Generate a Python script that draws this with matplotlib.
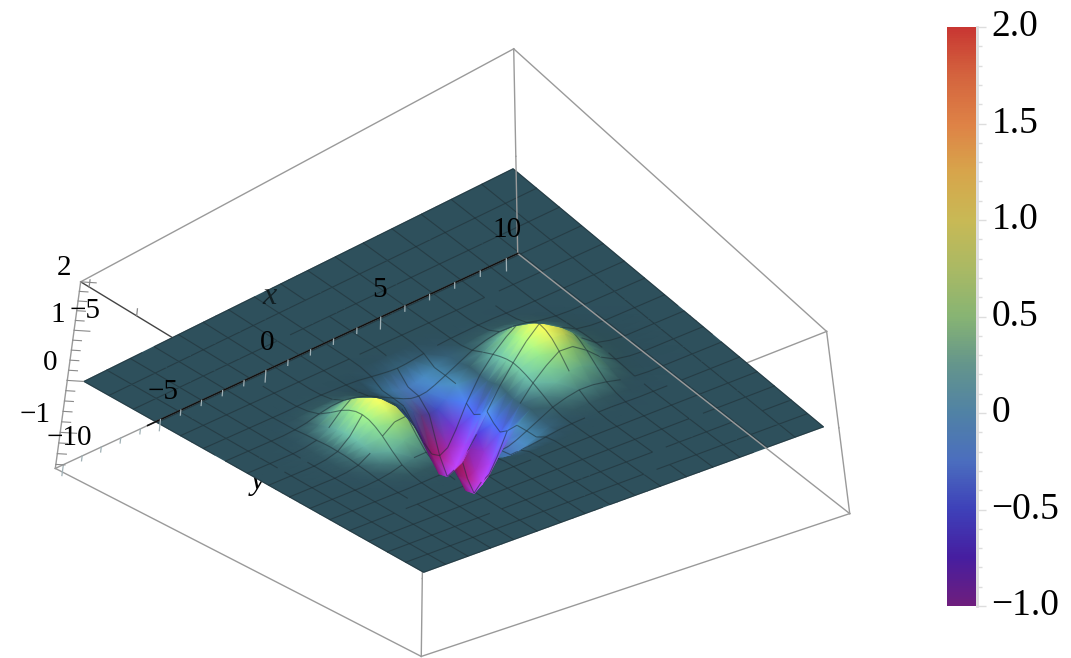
import numpy as np
import matplotlib
matplotlib.use("Agg")
import matplotlib.pyplot as plt
from matplotlib.collections import TriMesh, LineCollection
from matplotlib.colors import LinearSegmentedColormap, Normalize
from matplotlib.cm import ScalarMappable
from matplotlib.ticker import MultipleLocator
from matplotlib.tri import Triangulation
from matplotlib.transforms import ScaledTranslation
from mpl_toolkits.mplot3d import proj3d

# surface heights, one quadrant (x >= 0, y >= 0), the picture is about symmetric
x_half = [0, 0.375, 0.75, 1.25, 1.875, 2.5, 3.125, 3.75, 4.375, 5, 5.625, 6.25, 6.875, 7.5, 8.75, 10]
y_half = [0, 0.4, 0.8, 1.25, 1.875, 2.5, 3.125, 3.75, 4.375, 5, 5.625, 6.25, 7.5, 8.75, 10]
z_half = [
    [-1.0, -.93, -.71, -.35, .05, .39, .70, .94, .91, .65, .31, .10, .03, 0],
    [-1.35, -1.26, -.96, -.49, 0, .37, .68, .91, .88, .63, .30, .10, .03, 0],
    [-1.55, -1.44, -1.11, -.58, -.04, .33, .62, .83, .80, .57, .27, .09, .03, 0],
    [-1.25, -1.16, -.89, -.46, -.03, .27, .50, .68, .66, .47, .22, .07, .02, 0],
    [-.60, -.56, -.43, -.22, 0, .17, .31, .42, .41, .29, .14, .05, .01, 0],
    [-.38, -.36, -.30, -.20, -.07, .06, .14, .19, .18, .13, .06, .02, 0, 0],
    [-.34, -.32, -.27, -.19, -.08, .01, .05, .07, .06, .05, .02, .01, 0, 0],
    [-.12, -.11, -.09, -.06, -.02, 0, .01, .02, .02, .01, 0, 0, 0, 0],
    [-.02, -.02, -.01, -.01, 0, 0, 0, 0, 0, 0, 0, 0, 0, 0],
]
mesh_values = np.arange(-10, 10.01, 1.25)

bar_levels = [-1, -.75, -.5, -.25, 0, .25, .5, .75, 1, 1.25, 1.5, 1.75, 2]
bar_colors = ["#6e1e7d", "#461ea0", "#3e41b9", "#4b6ebe", "#5082a5", "#64958c", "#87b473", "#aab964",
              "#c8b955", "#d7a54b", "#de8246", "#d4643e", "#c83732"]
bar_ticks = [-1, -.5, 0, .5, 1, 1.5, 2]
bar_labels = ["\u22121.0", "\u22120.5", "0", "0.5", "1.0", "1.5", "2.0"]

W, H = 1071, 658
PLANE = 0.9586  # surface stops a bit inside the box
ZB = -1.6738

fig = plt.figure(figsize=(W / 100, H / 100), dpi=100)
plt.rcParams["font.family"] = ["Liberation Serif", "DejaVu Serif"]
ax = fig.add_axes([0, 0, 1, 1], projection="3d", computed_zorder=False)
ax.set_axis_off()
ax.patch.set_alpha(0)
ax.view_init(elev=-32.3029, azim=-51.6006, roll=-0.0444)
ax.set_proj_type("persp", focal_length=0.4387)
ax.set_box_aspect((1, 0.9972, 0.3975))
ax.set_xlim(-10, 10)
ax.set_ylim(-10, 10)
ax.set_zlim(ZB, 2)
scale, off_x, off_y = 4220.09, 460.83, 261.61
v = ax.viewLim
ax.set_position([(off_x + scale * v.x0) / W, (off_y + scale * v.y0) / H, scale * v.width / W, scale * v.height / H])

x_all = np.array([-t for t in x_half[:0:-1]] + x_half)
y_all = np.array([-t for t in y_half[:0:-1]] + y_half)
q = np.zeros((len(y_half), len(x_half)))
q[:len(z_half), :len(z_half[0])] = z_half
z_all = np.vstack([q[:0:-1], q])
z_all = np.hstack([z_all[:, :0:-1], z_all])

bar_cmap = LinearSegmentedColormap.from_list("bar", [((l + 1) / 3, c) for l, c in zip(bar_levels, bar_colors)])
norm = Normalize(-1, 2)

# colours: colormap times some hand tuned lighting
X, Y = np.meshgrid(x_all, y_all)
zy, zx = np.gradient(z_all, y_all, x_all)
zx, zy = zx * 2, zy * 2
nrm = np.sqrt(zx ** 2 + zy ** 2 + 1)
nx = zx / nrm
t = np.clip(np.abs(z_all) / 0.35, 0, 1)
glow = (t * t * (3 - 2 * t))[:, :, None]
flat_tint = np.array([0.575, 0.615, 0.56])
pos = (z_all > 0)[:, :, None]
shallow = np.clip((z_all + 0.9) / 0.4, 0, 1)[:, :, None]
neg_tint = np.array([1.0, 1.0, 1.0]) + shallow * np.array([-0.03, 0.3, 0.0])
up_tint = np.where(pos, np.array([0.95, 1.1, 1.0]), neg_tint)
f = flat_tint * (1 - glow) + up_tint * glow
f = f * (1 + 0.35 * nx)[:, :, None]
rgb = bar_cmap(norm(np.where(z_all > 0, z_all * 0.75, z_all)))[:, :, :3] * f
top = np.clip((z_all - 0.6) / 0.3, 0, 1)
rgb[:, :, 0] += top * 0.3
rgb[:, :, 1] += top * 0.12
rgb[:, :, 2] -= top * 0.08

# streaks round the two deep wells, from the coloured lights
deep = np.clip((-z_all - 0.25) / 0.5, 0, 1)
tip_y = np.where(Y >= 0, 0.8, -0.8)
phi = np.arctan2(Y - tip_y, X)
red = np.maximum(0, np.cos(2 * (phi - np.radians(70)))) ** 3
blue = np.maximum(0, np.cos(phi - np.radians(20))) ** 2
low = np.clip((-z_all - 0.8) / 0.7, 0, 1)
rgb[:, :, 0] += deep * 0.18 * red + low * 0.24
rgb[:, :, 1] += deep * (0.12 * blue - 0.03 * red) + low * 0.02
rgb[:, :, 2] += deep * (0.30 * blue - 0.22 * red) + low * 0.16
rgb = np.clip(rgb, 0, 1).reshape(-1, 3)
rgba = np.column_stack([rgb, np.ones(len(rgb))])

M = ax.get_proj()
px, py, pz = proj3d.proj_transform(PLANE * X.ravel(), PLANE * Y.ravel(), z_all.ravel(), M)
ny_, nx_ = X.shape
idx = np.arange(ny_ * nx_).reshape(ny_, nx_)
tris = np.vstack([
    np.column_stack([idx[:-1, :-1].ravel(), idx[:-1, 1:].ravel(), idx[1:, 1:].ravel()]),
    np.column_stack([idx[:-1, :-1].ravel(), idx[1:, 1:].ravel(), idx[1:, :-1].ravel()]),
])
tri_depth = pz[tris].mean(1)
order = np.argsort(-tri_depth)
tris = tris[order]
tri_depth = tri_depth[order]

segs = []
for val in mesh_values:
    j = np.argmin(np.abs(x_all - val))
    segs += [(idx[i, j], idx[i + 1, j]) for i in range(ny_ - 1)]
    i = np.argmin(np.abs(y_all - val))
    segs += [(idx[i, j2], idx[i, j2 + 1]) for j2 in range(nx_ - 1)]
segs = np.array(segs)
bias = 0.02 * (pz.max() - pz.min())
seg_depth = pz[segs].mean(1) - bias

# far to near, small slices of triangles with their mesh lines in between
layers = np.array_split(np.arange(len(tris)), 80)
for n, part in enumerate(layers):
    mesh = TriMesh(Triangulation(px, py, tris[part]))
    mesh.set_facecolor(rgba)
    mesh.set_transform(ax.transData)
    mesh.set_zorder(10 + 2 * n)
    mesh.do_3d_projection = lambda: 0
    ax.add_artist(mesh)
    hi = tri_depth[part[0]] if n > 0 else np.inf
    lo = tri_depth[part[-1]] if n < len(layers) - 1 else -np.inf
    chosen = segs[(seg_depth <= hi) & (seg_depth > lo)]
    if len(chosen):
        lc = LineCollection(np.stack([np.column_stack([px[chosen[:, 0]], py[chosen[:, 0]]]),
                                      np.column_stack([px[chosen[:, 1]], py[chosen[:, 1]]])], axis=1),
                            colors="#1f2d33", linewidths=0.8, alpha=0.55, transform=ax.transData)
        lc.set_zorder(11 + 2 * n)
        lc.do_3d_projection = lambda: 0
        ax.add_artist(lc)

# box
frame = "#9a9a9a"


def edge(p0, p1, z=400, c=frame, lw=1.0):
    ax.plot([p0[0], p1[0]], [p0[1], p1[1]], [p0[2], p1[2]], color=c, lw=lw, zorder=z, clip_on=False)


# top edges lie behind the surface
edge((-10, -10, 2), (10, -10, 2), 2)
edge((10, -10, 2), (10, 10, 2), 2)
edge((10, 10, 2), (-10, 10, 2), 2)
edge((-10, 10, 2), (-10, -10, 2), 2, "#444444")
# bottom edges are in front of it
edge((-10, -10, ZB), (10, -10, ZB))
edge((10, -10, ZB), (10, 10, ZB))
edge((10, 10, ZB), (-10, 10, ZB))
edge((-10, 10, ZB), (-10, -10, ZB))
edge((-5.4, -10, ZB), (10, -10, ZB), 401, "#111111", 1.2)
for cx, cy in [(-10, -10), (10, -10), (10, 10), (-10, 10)]:
    edge((cx, cy, 0), (cx, cy, 2), 2)
    edge((cx, cy, ZB), (cx, cy, 0))
# ticks
for t in range(-10, 11):
    ln = 0.2 if t % 5 == 0 else 0.09
    edge((PLANE * t, -10, ZB), (PLANE * t, -10, ZB - ln), 401, "#9fb0b5", 0.9)
for t in np.arange(-10, 10.1, 2.5):
    edge((-10, PLANE * t, 2), (-10, PLANE * t, 2.15), 2, "#8a8a8a", 0.9)
for t in np.arange(-1.6, 2.01, 0.2):
    ln = 0.4 if abs(t - round(t)) < 0.01 else 0.22
    edge((-10, -10, t), (-10 + ln, -10 + ln, t), 401, "#8a8a8a", 0.8)


def label(s, u, v, size=21, zorder=500, **kw):
    ax.text2D(u / W, 1 - v / H, s, transform=fig.transFigure, ha="center", va="center",
              fontsize=size, color="black", zorder=zorder, **kw)


label("2", 64, 268)
label("1", 58, 315)
label("\u22125", 85, 311)
label("0", 50, 363)
label("\u22121", 35, 415)
label("\u221210", 69, 438)
label("\u22125", 163, 392)
label("0", 267, 343)
label("5", 380, 290)
label("10", 507, 230)
label("x", 270, 297, size=23, style="italic", alpha=0.6)
label("y", 258, 482, size=23, style="italic", zorder=5)

# colour bar
cax = fig.add_axes([947 / W, 1 - 606 / H, 29 / W, 579 / H])
cb = fig.colorbar(ScalarMappable(norm=norm, cmap=bar_cmap), cax=cax, ticks=bar_ticks)
cb.ax.set_yticklabels(bar_labels)
cb.ax.yaxis.set_minor_locator(MultipleLocator(0.1))
cb.outline.set_visible(False)
cb.ax.tick_params(which="major", length=7, width=1, color="#dddddd", labelsize=27, pad=4)
cb.ax.tick_params(which="minor", length=4, width=1, color="#dddddd")
cb.ax.axvline(1.03, color="#dddddd", lw=2, clip_on=False)
shift = ScaledTranslation(0, 3 / 72, fig.dpi_scale_trans)
for lab in cb.ax.get_yticklabels():
    lab.set_transform(lab.get_transform() + shift)

fig.savefig("out.png", dpi=100)
